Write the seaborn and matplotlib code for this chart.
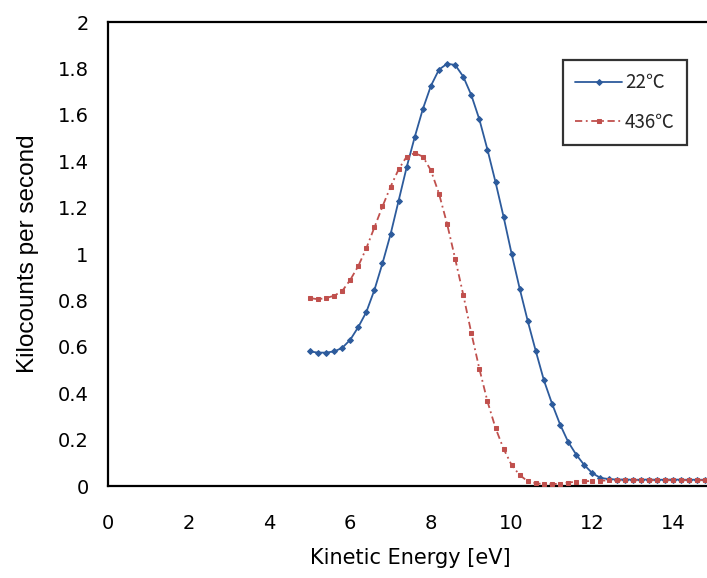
import matplotlib
matplotlib.use("Agg")
import matplotlib.pyplot as plt
import seaborn as sns
import pandas as pd

energy = [5.0, 5.2, 5.4, 5.6, 5.8, 6.0, 6.2, 6.4, 6.6, 6.8,
          7.0, 7.2, 7.4, 7.6, 7.8, 8.0, 8.2, 8.4, 8.6, 8.8,
          9.0, 9.2, 9.4, 9.6, 9.8, 10.0, 10.2, 10.4, 10.6, 10.8,
          11.0, 11.2, 11.4, 11.6, 11.8, 12.0, 12.2, 12.4, 12.6, 12.8,
          13.0, 13.2, 13.4, 13.6, 13.8, 14.0, 14.2, 14.4, 14.6, 14.8, 15.0]

counts_22 = [0.58, 0.575, 0.575, 0.58, 0.595, 0.63, 0.685, 0.75, 0.845, 0.96,
             1.085, 1.23, 1.375, 1.505, 1.625, 1.725, 1.795, 1.82, 1.815, 1.765,
             1.685, 1.58, 1.45, 1.31, 1.16, 1.0, 0.85, 0.71, 0.58, 0.455,
             0.355, 0.265, 0.19, 0.135, 0.09, 0.055, 0.035, 0.03, 0.028, 0.028,
             0.027, 0.027, 0.028, 0.027, 0.027, 0.028, 0.027, 0.027, 0.027, 0.027, 0.027]

counts_436 = [0.81, 0.805, 0.81, 0.82, 0.84, 0.888, 0.948, 1.025, 1.115, 1.205,
              1.29, 1.365, 1.42, 1.435, 1.42, 1.36, 1.26, 1.13, 0.98, 0.825,
              0.66, 0.505, 0.365, 0.25, 0.16, 0.09, 0.047, 0.02, 0.012, 0.008,
              0.008, 0.01, 0.015, 0.018, 0.02, 0.022, 0.023, 0.024, 0.024, 0.025,
              0.025, 0.025, 0.025, 0.025, 0.025, 0.025, 0.025, 0.025, 0.025, 0.025, 0.025]

labels = ["22℃", "436℃"]
x_ticks = [0, 2, 4, 6, 8, 10, 12, 14]
y_ticks = [0, 0.2, 0.4, 0.6, 0.8, 1, 1.2, 1.4, 1.6, 1.8, 2]
y_tick_labels = ["0", "0.2", "0.4", "0.6", "0.8", "1", "1.2", "1.4", "1.6", "1.8", "2"]

sns.set_style("white")
plt.rcParams['font.family'] = ['DejaVu Sans', 'Noto Sans CJK JP']

df22 = pd.DataFrame({"E": energy, "C": counts_22})
df436 = pd.DataFrame({"E": energy, "C": counts_436})

fig = plt.figure(figsize=(7.07, 5.78), dpi=100)
ax = fig.add_axes([108/707, 92/578, 605.5/707, 464/578])

blue = "#2D5B9C"
red = "#C0504D"
sns.lineplot(data=df22, x="E", y="C", ax=ax, color=blue, lw=1.3,
             marker="D", markersize=3.0, markeredgecolor=blue,
             label=labels[0], zorder=2)
sns.lineplot(data=df436, x="E", y="C", ax=ax, color=red, lw=1.3,
             marker="s", markersize=3.4, markeredgecolor=red,
             label=labels[1], zorder=3)
ax.lines[1].set_dashes((4, 2, 1, 2))

ax.set_xlim(0, 15)
ax.set_ylim(0, 2)
ax.set_xticks(x_ticks)
ax.set_yticks(y_ticks)
ax.set_yticklabels(y_tick_labels)
ax.tick_params(axis="both", direction="in", length=6, width=1.3,
               labelsize=14, color="black", labelcolor="black")
ax.tick_params(axis="x", pad=20)
ax.tick_params(axis="y", pad=14)
for s in ax.spines.values():
    s.set_color("black")
    s.set_linewidth(1.6)

ax.set_xlabel("Kinetic Energy [eV]", fontsize=15, labelpad=11, color="black")
ax.set_ylabel("Kilocounts per second", fontsize=17.5,
              family=["Liberation Sans"], labelpad=13, color="black")

leg = ax.legend(loc="upper left", bbox_to_anchor=(0.7514, 0.918),
                prop={"family": ["Noto Sans CJK JP"], "size": 13.5},
                frameon=True, fancybox=False, edgecolor="black",
                handlelength=2.5, borderpad=0.65, labelspacing=1.0,
                handletextpad=0.15, borderaxespad=0)
leg.get_frame().set_linewidth(1.6)

fig.savefig("out.png", dpi=100)
